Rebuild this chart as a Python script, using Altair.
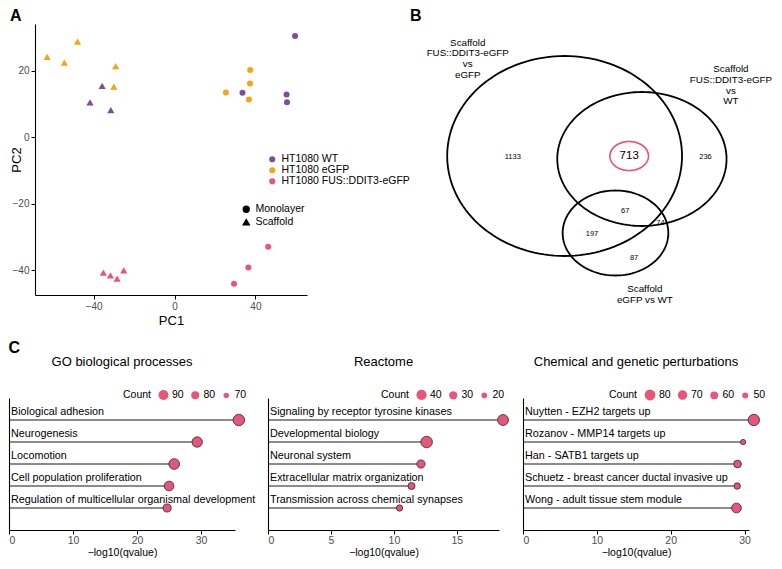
import altair as alt
import numpy as np
import pandas as pd

FONT = "Liberation Sans"
PURPLE = "#7b4f9b"
ORANGE = "#f2a516"
PINK = "#e8557a"

# ---------------- Panel A: PCA ----------------
groups = ["HT1080 WT", "HT1080 eGFP", "HT1080 FUS::DDIT3-eGFP"]
cultures = ["Monolayer", "Scaffold"]

pca_group = (["HT1080 WT"] * 7 + ["HT1080 eGFP"] * 9 + ["HT1080 FUS::DDIT3-eGFP"] * 7)
pca_culture = (["Scaffold"] * 3 + ["Monolayer"] * 4 +
               ["Scaffold"] * 5 + ["Monolayer"] * 4 +
               ["Scaffold"] * 4 + ["Monolayer"] * 3)
pca_pc1 = [-35.8, -41.8, -31.5, 59.6, 33.6, 55.4, 55.6,
           -63.0, -54.5, -48.0, -29.1, -30.0, 25.4, 37.4, 37.3, 36.8,
           -35.2, -31.7, -28.4, -25.1, 29.4, 36.5, 46.3]
pca_pc2 = [15.4, 10.4, 8.1, 30.4, 13.3, 12.8, 10.5,
           24.1, 22.4, 28.7, 21.3, 15.2, 13.4, 20.2, 16.1, 11.3,
           -40.8, -41.6, -42.6, -40.1, -44.1, -39.2, -33.0]

pca_df = pd.DataFrame({"Group": pca_group, "Culture": pca_culture,
                       "PC1": pca_pc1, "PC2": pca_pc2})

panel_title = dict(anchor="start", fontSize=16, fontWeight="bold", font=FONT, offset=0)

chart_a = alt.Chart(pca_df).mark_point(filled=True, opacity=1).encode(
    x=alt.X("PC1:Q", scale=alt.Scale(domain=[-69, 65.5], nice=False, zero=False),
            axis=alt.Axis(values=[-40, 0, 40], title="PC1", titleFontSize=13,
                          labelFontSize=10, titlePadding=3)),
    y=alt.Y("PC2:Q", scale=alt.Scale(domain=[-47.5, 34], nice=False, zero=False),
            axis=alt.Axis(values=[-40, -20, 0, 20], title="PC2", titleFontSize=13,
                          labelFontSize=10, titleX=-12)),
    color=alt.Color("Group:N", scale=alt.Scale(domain=groups, range=[PURPLE, ORANGE, PINK]),
                    legend=alt.Legend(title=None, orient="none", legendX=232, legendY=130,
                                      symbolType="circle", symbolSize=38, labelFontSize=10.5,
                                      labelColor="black", rowPadding=0, padding=0,
                                      symbolOpacity=1)),
    shape=alt.Shape("Culture:N", scale=alt.Scale(domain=cultures, range=["circle", "triangle-up"]),
                    legend=alt.Legend(title=None, orient="none", legendX=232, legendY=180,
                                      symbolFillColor="black", symbolStrokeColor="black",
                                      symbolSize=34, labelFontSize=10.5, labelColor="black",
                                      rowPadding=0, padding=0, symbolOpacity=1)),
    size=alt.Size("Culture:O", scale=alt.Scale(domain=cultures, range=[36, 52]), legend=None),
).properties(width=272, height=271, title=alt.TitleParams("A", **panel_title))

# invisible narrow cell so that panel A's axis sits to the right of panel C's axis
spacer = alt.Chart(pd.DataFrame({"s": [""]})).mark_text(opacity=0).encode(
    text="s:N").properties(width=1, height=10)

# ---------------- Panel B: Venn ----------------
ell_names = ["FUS vs eGFP", "FUS vs WT", "eGFP vs WT"]
ell_cx = [562, 641, 614]
ell_cy = [162, 165, 239]
ell_rx = [120, 86.5, 54]
ell_ry = [100, 67, 42.5]

hl_cx, hl_cy, hl_rx, hl_ry = 628, 162, 19.7, 14.5

venn_counts = ["1133", "236", "67", "74", "197", "87"]
venn_x = [509, 706, 624, 660, 590, 633]
venn_y = [163, 163, 217, 229, 240, 264]
venn_core = "713"

set_labels = ["Scaffold\nFUS::DDIT3-eGFP\nvs\neGFP",
              "Scaffold\nFUS::DDIT3-eGFP\nvs\nWT",
              "Scaffold\neGFP vs WT"]
set_label_x = [463, 732, 644]
set_label_y = [43.5, 70, 290]

t = np.linspace(0, 2 * np.pi, 145)
rows = []
for n, cx, cy, rx, ry in zip(ell_names, ell_cx, ell_cy, ell_rx, ell_ry):
    for i, a in enumerate(t):
        rows.append({"ell": n, "i": i, "x": cx + rx * np.cos(a), "y": cy + ry * np.sin(a)})
ell_df = pd.DataFrame(rows)
hl_df = pd.DataFrame({"i": range(len(t)), "x": hl_cx + hl_rx * np.cos(t), "y": hl_cy + hl_ry * np.sin(t)})

bx = alt.Scale(domain=[404, 776], nice=False, zero=False)
by = alt.Scale(domain=[30, 310], nice=False, zero=False, reverse=True)

ells = alt.Chart(ell_df).mark_line(color="black", strokeWidth=1.8).encode(
    x=alt.X("x:Q", scale=bx, axis=None), y=alt.Y("y:Q", scale=by, axis=None),
    detail="ell:N", order="i:Q")
hl = alt.Chart(hl_df).mark_line(color=PINK, strokeWidth=1.7).encode(
    x=alt.X("x:Q", scale=bx, axis=None), y=alt.Y("y:Q", scale=by, axis=None), order="i:Q")
nums = alt.Chart(pd.DataFrame({"t": venn_counts, "x": venn_x, "y": venn_y})).mark_text(
    fontSize=7.5, font=FONT, color="black").encode(
    x=alt.X("x:Q", scale=bx, axis=None), y=alt.Y("y:Q", scale=by, axis=None), text="t:N")
core = alt.Chart(pd.DataFrame({"t": [venn_core], "x": [hl_cx], "y": [hl_cy]})).mark_text(
    fontSize=11.5, font=FONT, color="black").encode(
    x=alt.X("x:Q", scale=bx, axis=None), y=alt.Y("y:Q", scale=by, axis=None), text="t:N")
labs = alt.Chart(pd.DataFrame({"t": set_labels, "x": set_label_x, "y": set_label_y})).mark_text(
    fontSize=9.8, font=FONT, color="black", lineBreak="\n", lineHeight=10.8,
    baseline="top", align="center").encode(
    x=alt.X("x:Q", scale=bx, axis=None), y=alt.Y("y:Q", scale=by, axis=None), text="t:N")

chart_b = alt.layer(ells, hl, nums, core, labs).properties(
    width=364, height=280, title=alt.TitleParams("B", **panel_title))

# ---------------- Panel C: lollipops ----------------
go_terms = ["Biological adhesion", "Neurogenesis", "Locomotion",
            "Cell population proliferation",
            "Regulation of multicellular organismal development"]
go_q = [35.9, 29.4, 25.8, 25.0, 24.7]
go_count = [99, 92, 94, 88, 80]

react_terms = ["Signaling by receptor tyrosine kinases", "Developmental biology",
               "Neuronal system", "Extracellular matrix organization",
               "Transmission across chemical synapses"]
react_q = [18.67, 12.6, 12.15, 11.4, 10.45]
react_count = [44, 48, 30, 25, 22]

cgp_terms = ["Nuytten - EZH2 targets up", "Rozanov - MMP14 targets up",
             "Han - SATB1 targets up", "Schuetz - breast cancer ductal invasive up",
             "Wong - adult tissue stem module"]
cgp_q = [31.25, 29.8, 29.05, 29.0, 28.9]
cgp_count = [85, 47, 59, 52, 72]

rank = [5, 4, 3, 2, 1]


def lollipop(terms, qv, cnt, title, xmax, ticks, sdom, srng, lvals, lx, width):
    df = pd.DataFrame({"term": terms, "q": qv, "count": cnt, "pos": rank})
    xs = alt.Scale(domain=[0, xmax], nice=False, zero=False)
    ys = alt.Scale(domain=[0, 6], nice=False, zero=False)
    xax = alt.Axis(values=ticks, title="\u2212log10(qvalue)", titleFontSize=10.5,
                   labelFontSize=10.5, titlePadding=2, labelPadding=1, format="d")
    yax = alt.Axis(labels=False, ticks=False, title=None, domain=True)
    base = alt.Chart(df).transform_calculate(x0="0")
    stems = base.mark_rule(color="#1a1a1a", strokeWidth=1.1).encode(
        x=alt.X("x0:Q", scale=xs, axis=xax), x2="q:Q",
        y=alt.Y("pos:Q", scale=ys, axis=yax))
    labels = base.mark_text(align="left", baseline="middle", dx=2, dy=-8,
                            fontSize=10.8, font=FONT, color="black").encode(
        x=alt.X("x0:Q", scale=xs), y=alt.Y("pos:Q", scale=ys), text="term:N")
    dots = base.mark_point(filled=True, fill=PINK, stroke="#2a2a2a", strokeWidth=0.8,
                           opacity=1, shape="circle").encode(
        x=alt.X("q:Q", scale=xs), y=alt.Y("pos:Q", scale=ys),
        size=alt.Size("count:Q", scale=alt.Scale(domain=sdom, range=srng, zero=False),
                      legend=alt.Legend(title="Count", values=lvals, orient="none",
                                        legendX=lx, legendY=-9, direction="horizontal",
                                        titleOrient="left", titleFontWeight="normal",
                                        titleFontSize=10.5, labelFontSize=10.5,
                                        titleBaseline="middle",
                                        symbolFillColor=PINK, symbolStrokeColor="#2a2a2a",
                                        symbolStrokeWidth=0.8, symbolOpacity=1,
                                        columnPadding=5, labelOffset=3, padding=0,
                                        titlePadding=6, labelColor="black",
                                        titleColor="black")))
    return alt.layer(stems, dots, labels).properties(
        width=width, height=132,
        title=alt.TitleParams(title, fontSize=13, fontWeight="normal", font=FONT,
                              anchor="middle", offset=20))


c1 = lollipop(go_terms, go_q, go_count, "GO biological processes", 35.3, [0, 10, 20, 30],
              [70, 100], [30, 135], [90, 80, 70], 114, 226)
c2 = lollipop(react_terms, react_q, react_count, "Reactome", 18.35, [0, 5, 10, 15],
              [20, 50], [32, 140], [40, 30, 20], 113, 231)
c3 = lollipop(cgp_terms, cgp_q, cgp_count, "Chemical and genetic perturbations", 30.6,
              [0, 10, 20, 30], [45, 85], [22, 130], [80, 70, 60, 50], 86, 226)

row1 = alt.hconcat(spacer, chart_a, chart_b, spacing=0).resolve_scale(
    color="independent", size="independent")
row2 = alt.hconcat(c1, c2, c3, spacing=11).resolve_scale(x="independent", size="independent").properties(
    title=alt.TitleParams("C", anchor="start", fontSize=16, fontWeight="bold", font=FONT, offset=0))

chart = alt.vconcat(row1, row2, spacing=13).properties(padding=0).configure(
    font=FONT).configure_view(stroke=None).configure_axis(
    domainColor="black", domainWidth=1.1, tickColor="black", tickWidth=1, tickSize=4,
    labelColor="#4d4d4d", labelFont=FONT, titleFont=FONT, titleFontWeight="normal",
    titleColor="black", grid=False).configure_legend(labelFont=FONT, titleFont=FONT).configure_title(
    font=FONT, color="black")

chart.save("out.html", embed_options={"renderer": "svg", "actions": False})
